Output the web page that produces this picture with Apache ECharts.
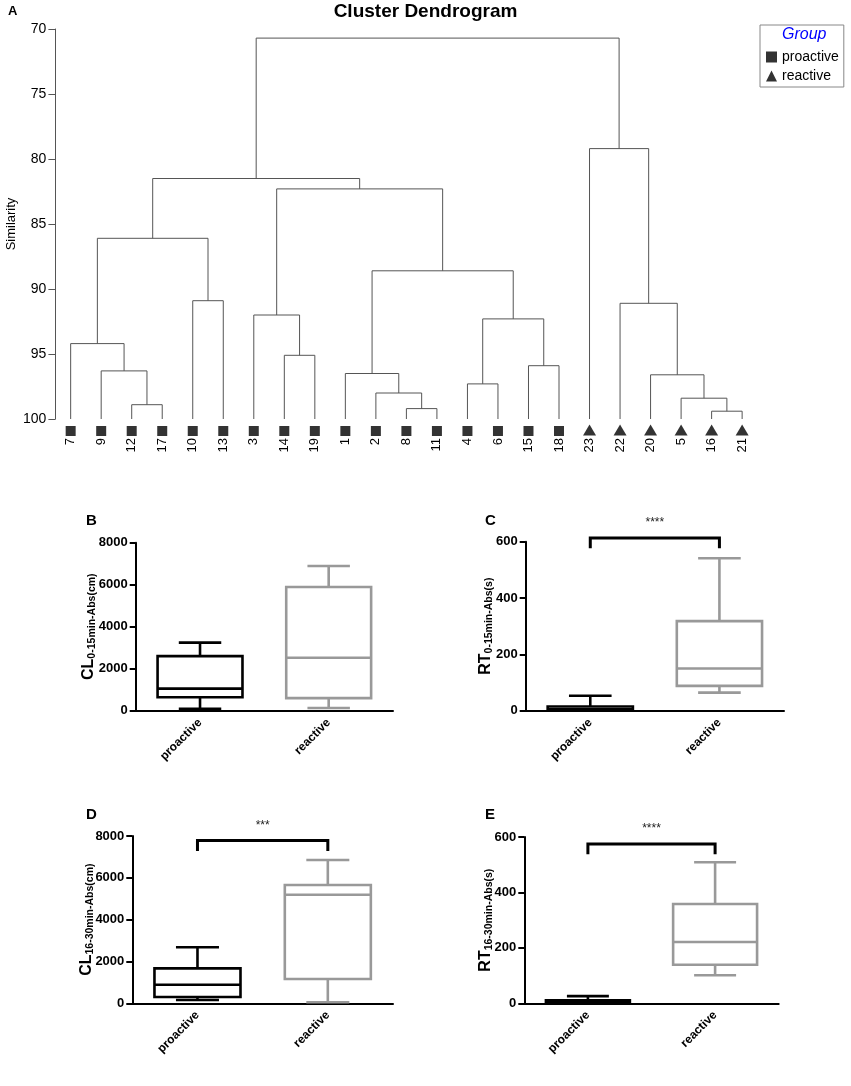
<!DOCTYPE html>
<html>
<head>
<meta charset="utf-8">
<title>Cluster Dendrogram</title>
<script src="https://cdn.jsdelivr.net/npm/echarts@6/dist/echarts.min.js"></script>
<style>
  html, body { margin: 0; padding: 0; background: #fff; }
  #chart { width: 851px; height: 1086px; }
</style>
</head>
<body>
<div id="chart"></div>
<script>
// A: dendrogram, leaves left to right
var leafOrder = ['7', '9', '12', '17', '10', '13', '3', '14', '19', '1', '2', '8', '11',
                 '4', '6', '15', '18', '23', '22', '20', '5', '16', '21'];
var leafGroup = ['proactive', 'proactive', 'proactive', 'proactive', 'proactive', 'proactive',
                 'proactive', 'proactive', 'proactive', 'proactive', 'proactive', 'proactive',
                 'proactive', 'proactive', 'proactive', 'proactive', 'proactive',
                 'reactive', 'reactive', 'reactive', 'reactive', 'reactive', 'reactive'];
// merge steps: [left, right, similarity]; 'mN' = result of step N
var merges = [
  ['12', '17', 98.9],   // m0
  ['9', 'm0', 96.3],    // m1
  ['7', 'm1', 94.2],    // m2
  ['10', '13', 90.9],   // m3
  ['m2', 'm3', 86.1],   // m4
  ['14', '19', 95.1],   // m5
  ['3', 'm5', 92.0],    // m6
  ['8', '11', 99.2],    // m7
  ['2', 'm7', 98.0],    // m8
  ['1', 'm8', 96.5],    // m9
  ['4', '6', 97.3],     // m10
  ['15', '18', 95.9],   // m11
  ['m10', 'm11', 92.3], // m12
  ['m9', 'm12', 88.6],  // m13
  ['m6', 'm13', 82.3],  // m14
  ['m4', 'm14', 81.5],  // m15
  ['16', '21', 99.4],   // m16
  ['5', 'm16', 98.4],   // m17
  ['20', 'm17', 96.6],  // m18
  ['22', 'm18', 91.1],  // m19
  ['23', 'm19', 79.2],  // m20
  ['m15', 'm20', 70.7]  // m21
];
var leafSimilarity = 100;

// B-E: box plots, [min, q1, median, q3, max]
var groups = ['proactive', 'reactive'];
var cl0to15 = [[95, 640, 1050, 2600, 3240], [130, 600, 2520, 5890, 6890]];
var rt0to15 = [[0, 2, 5, 15, 53], [64, 88, 150, 318, 541]];
var cl16to30 = [[160, 300, 890, 1670, 2680], [50, 1160, 5190, 5660, 6850]];
var rt16to30 = [[0, 2, 6, 11, 26], [101, 139, 221, 358, 509]];
// significance brackets: [bar height, leg end]
var bracketC = [613, 577];
var bracketD = [7780, 7280];
var bracketE = [575, 538];
var starsC = '****', starsD = '***', starsE = '****';

var FONT = 'Liberation Sans, Arial, sans-serif';

// position of every node on the leaf axis (1..23)
var pos = {}, height = {};
leafOrder.forEach(function (l, i) { pos[l] = i + 1; height[l] = leafSimilarity; });
var links = merges.map(function (m, i) {
  var a = m[0], b = m[1];
  pos['m' + i] = (pos[a] + pos[b]) / 2;
  height['m' + i] = m[2];
  return [pos[a], height[a], pos[b], height[b], m[2]];
});

function symbolData(g) {
  var out = [];
  leafOrder.forEach(function (l, i) {
    if (leafGroup[i] === g) out.push([i + 1, leafSimilarity]);
  });
  return out;
}

function boxItem(params, api) {
  var x = api.value(0);
  var band = api.size([1, 0])[0];
  var bw = band * 0.66, cw = bw / 2;
  var color = x === 0 ? '#000' : '#999';
  var pMin = api.coord([x, api.value(1)]);
  var pQ1 = api.coord([x, api.value(2)]);
  var pMed = api.coord([x, api.value(3)]);
  var pQ3 = api.coord([x, api.value(4)]);
  var pMax = api.coord([x, api.value(5)]);
  var cx = pMed[0];
  var st = { stroke: color, lineWidth: 2.6, fill: null };
  function ln(x1, y1, x2, y2) {
    return { type: 'line', shape: { x1: x1, y1: y1, x2: x2, y2: y2 }, style: st };
  }
  return {
    type: 'group',
    children: [
      ln(cx, pMax[1], cx, pQ3[1]),
      ln(cx, pMin[1], cx, pQ1[1]),
      ln(cx - cw / 2, pMax[1], cx + cw / 2, pMax[1]),
      ln(cx - cw / 2, pMin[1], cx + cw / 2, pMin[1]),
      { type: 'rect', shape: { x: cx - bw / 2, y: pQ3[1], width: bw, height: Math.max(pQ1[1] - pQ3[1], 0.5) }, style: st },
      ln(cx - bw / 2, pMed[1], cx + bw / 2, pMed[1])
    ]
  };
}

function boxSeries(idx, vals) {
  return {
    type: 'custom',
    xAxisIndex: idx, yAxisIndex: idx,
    renderItem: boxItem,
    encode: { x: 0, y: [1, 2, 3, 4, 5] },
    data: vals.map(function (v, i) { return [i].concat(v); }),
    silent: true
  };
}

function bracketSeries(idx, br, stars) {
  return {
    type: 'custom',
    xAxisIndex: idx, yAxisIndex: idx,
    clip: false,
    silent: true,
    encode: { x: [0, 1], y: [2, 3] },
    data: [[0, 1, br[0], br[1]]],
    renderItem: function (params, api) {
      var a = api.coord([api.value(0), api.value(2)]);
      var b = api.coord([api.value(1), api.value(2)]);
      var legY = api.coord([0, api.value(3)])[1];
      return {
        type: 'group',
        children: [
          { type: 'polyline',
            shape: { points: [[a[0], legY], a, b, [b[0], legY]] },
            style: { stroke: '#000', lineWidth: 3, fill: null } },
          { type: 'text',
            style: { text: stars, x: (a[0] + b[0]) / 2, y: a[1] - 9,
                     align: 'center', verticalAlign: 'bottom',
                     fontSize: 12, fontFamily: FONT, fill: '#222' } }
        ]
      };
    }
  };
}

function boxX(idx) {
  return {
    type: 'category', gridIndex: idx, data: groups,
    axisLine: { lineStyle: { color: '#000', width: 2 } },
    axisTick: { alignWithLabel: true, length: 6, lineStyle: { color: '#000', width: 2 } },
    axisLabel: { rotate: 45, margin: 10, color: '#000', fontWeight: 'bold', fontSize: 12, fontFamily: FONT }
  };
}

function boxY(idx, max, step, main, sub, gap) {
  return {
    type: 'value', gridIndex: idx, min: 0, max: max, interval: step,
    splitLine: { show: false },
    axisLine: { show: true, lineStyle: { color: '#000', width: 2 } },
    axisTick: { show: true, length: 6, lineStyle: { color: '#000', width: 2 } },
    axisLabel: { color: '#000', fontWeight: 'bold', fontSize: 13, fontFamily: FONT, margin: 8,
                 formatter: function (v) { return String(v); } },
    name: '{a|' + main + '}{b|' + sub + '}',
    nameLocation: 'middle', nameRotate: 90, nameGap: gap, nameMoveOverlap: false,
    nameTextStyle: {
      rich: {
        a: { fontSize: 16, fontWeight: 'bold', fontFamily: FONT, color: '#000' },
        b: { fontSize: 10.5, fontWeight: 'bold', fontFamily: FONT, color: '#000', padding: [7, 0, 0, 0] }
      }
    }
  };
}

function panelLetter(t, x, y, size) {
  return { text: t, left: x, top: y, padding: 0,
           textStyle: { fontSize: size || 15, fontWeight: 'bold', fontFamily: FONT, color: '#000' } };
}

var chart = echarts.init(document.getElementById('chart'));
chart.setOption({
  backgroundColor: '#fff',
  animation: false,
  title: [
    { text: 'Cluster Dendrogram', left: 'center', top: 2, padding: 0,
      textStyle: { fontSize: 19, fontWeight: 'bold', fontFamily: FONT, color: '#000' } },
    panelLetter('A', 8, 5, 13),
    panelLetter('B', 86, 513),
    panelLetter('C', 485, 513),
    panelLetter('D', 86, 807),
    panelLetter('E', 485, 807)
  ],
  legend: {
    data: [{ name: 'proactive', icon: 'rect' }, { name: 'reactive', icon: 'triangle' }],
    orient: 'vertical', left: 760, top: 25,
    padding: [25, 5, 4, 6], itemGap: 5, itemWidth: 11, itemHeight: 11,
    borderColor: '#888', borderWidth: 1,
    selectedMode: false,
    textStyle: { fontSize: 14, fontFamily: FONT, color: '#000' }
  },
  graphic: [
    { type: 'text', left: 782, top: 27,
      style: { text: 'Group', fontSize: 16, fontStyle: 'italic', fontFamily: FONT, fill: '#0000ff' } }
  ],
  grid: [
    { left: 55.4, top: 29, width: 702, height: 390, outerBoundsMode: 'none' },
    { left: 135.7, top: 542.7, width: 257.3, height: 168, outerBoundsMode: 'none' },
    { left: 525.7, top: 541.7, width: 258.3, height: 169, outerBoundsMode: 'none' },
    { left: 132.3, top: 836, width: 260.7, height: 167.3, outerBoundsMode: 'none' },
    { left: 524.3, top: 837, width: 254.4, height: 166.3, outerBoundsMode: 'none' }
  ],
  xAxis: [
    { type: 'value', gridIndex: 0, min: 0.5, max: leafOrder.length + 0.5, show: false },
    boxX(1), boxX(2), boxX(3), boxX(4),
    { type: 'category', gridIndex: 0, data: leafOrder, position: 'bottom',
      axisLine: { show: false }, axisTick: { show: false },
      axisLabel: { rotate: 90, margin: 19, fontSize: 13, fontFamily: FONT, color: '#000' } }
  ],
  yAxis: [
    { type: 'value', gridIndex: 0, inverse: true, min: 70, max: 100, interval: 5,
      splitLine: { show: false },
      axisLine: { show: true, lineStyle: { color: '#555', width: 1 } },
      axisTick: { show: true, length: 7, lineStyle: { color: '#555' } },
      axisLabel: { fontSize: 14, fontFamily: FONT, color: '#000', margin: 9 },
      name: 'Similarity', nameLocation: 'middle', nameRotate: 90, nameGap: 37, nameMoveOverlap: false,
      nameTextStyle: { fontSize: 13, fontFamily: FONT, color: '#000' } },
    boxY(1, 8000, 2000, 'CL', '0-15min-Abs(cm)', 38),
    boxY(2, 600, 200, 'RT', '0-15min-Abs(s)', 31),
    boxY(3, 8000, 2000, 'CL', '16-30min-Abs(cm)', 37),
    boxY(4, 600, 200, 'RT', '16-30min-Abs(s)', 30)
  ],
  series: [
    {
      type: 'custom', xAxisIndex: 0, yAxisIndex: 0, silent: true,
      encode: { x: [0, 2], y: [1, 3, 4] },
      data: links,
      renderItem: function (params, api) {
        var l = api.coord([api.value(0), api.value(1)]);
        var lt = api.coord([api.value(0), api.value(4)]);
        var rt = api.coord([api.value(2), api.value(4)]);
        var r = api.coord([api.value(2), api.value(3)]);
        return { type: 'polyline', shape: { points: [l, lt, rt, r] },
                 style: { stroke: '#555', lineWidth: 1, fill: null } };
      }
    },
    { name: 'proactive', type: 'scatter', xAxisIndex: 0, yAxisIndex: 0,
      symbol: 'rect', symbolSize: 10, symbolOffset: [0, 12], clip: false, silent: true,
      itemStyle: { color: '#000' }, data: symbolData('proactive') },
    { name: 'reactive', type: 'scatter', xAxisIndex: 0, yAxisIndex: 0,
      symbol: 'triangle', symbolSize: [13, 11], symbolOffset: [0, 11], clip: false, silent: true,
      itemStyle: { color: '#000' }, data: symbolData('reactive') },
    boxSeries(1, cl0to15),
    boxSeries(2, rt0to15),
    boxSeries(3, cl16to30),
    boxSeries(4, rt16to30),
    bracketSeries(2, bracketC, starsC),
    bracketSeries(3, bracketD, starsD),
    bracketSeries(4, bracketE, starsE)
  ]
});
</script>
</body>
</html>
